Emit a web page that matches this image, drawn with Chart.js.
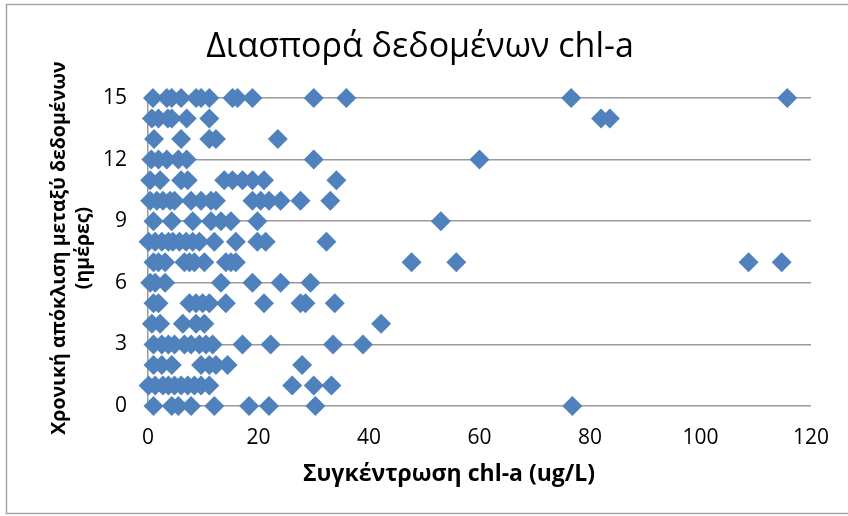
<!DOCTYPE html>
<html>
<head>
<meta charset="utf-8">
<script src="https://cdn.jsdelivr.net/npm/chart.js@4.4.1/dist/chart.umd.min.js"></script>
<style>
  html, body { margin: 0; padding: 0; background: #ffffff; }
  canvas { display: block; }
</style>
</head>
<body>
<canvas id="chart" width="848" height="516"></canvas>
<script>
const chartTitle = 'Διασπορά δεδομένων chl-a';
const xAxisTitle = 'Συγκέντρωση chl-a (ug/L)';
const yAxisTitleLines = ['Χρονική απόκλιση μεταξύ δεδομένων', '(ημέρες)'];

const xTicks = [0, 20, 40, 60, 80, 100, 120];
const yTicks = [0, 3, 6, 9, 12, 15];

// chl-a concentration (ug/L) of each sample, grouped by time lag (days)
const lag0  = [1.0, 4.3, 5.5, 7.8, 12.0, 18.3, 21.9, 30.3, 76.8];
const lag1  = [0.1, 1.3, 2.7, 3.7, 4.8, 6.0, 7.2, 8.4, 9.6, 11.1, 26.1, 30.0, 33.2];
const lag2  = [1.0, 2.5, 4.3, 9.6, 11.1, 12.3, 14.4, 27.9];
const lag3  = [1.0, 2.5, 3.7, 4.8, 6.6, 7.8, 9.3, 10.5, 11.7, 17.1, 22.2, 33.5, 38.9];
const lag4  = [0.7, 2.2, 6.3, 8.7, 10.2, 42.2];
const lag5  = [1.0, 1.9, 7.5, 8.7, 9.9, 11.1, 14.1, 21.0, 27.6, 28.5, 33.8];
const lag6  = [0.4, 1.3, 3.1, 13.2, 18.9, 24.0, 29.4];
const lag7  = [1.0, 1.9, 3.1, 6.6, 7.5, 8.4, 10.2, 14.1, 15.0, 15.9, 47.7, 55.8, 108.7, 114.7];
const lag8  = [0.1, 1.3, 2.5, 3.7, 4.5, 5.7, 6.9, 8.1, 9.3, 12.0, 15.9, 19.8, 21.3, 32.3];
const lag9  = [1.0, 4.3, 8.1, 11.4, 13.2, 15.0, 19.8, 53.0];
const lag10 = [0.4, 1.6, 2.7, 4.0, 4.8, 7.8, 9.6, 11.4, 12.3, 18.9, 20.4, 21.9, 24.0, 27.6, 33.0];
const lag11 = [0.4, 2.2, 6.0, 7.2, 13.8, 15.3, 17.1, 18.9, 21.0, 34.1];
const lag12 = [0.6, 1.9, 3.4, 5.5, 7.0, 30.0, 60.0];
const lag13 = [1.1, 6.0, 11.1, 12.3, 23.5];
const lag14 = [0.7, 1.9, 3.6, 4.3, 7.0, 11.1, 82.0, 83.6];
const lag15 = [0.9, 3.4, 4.3, 6.0, 8.7, 9.6, 11.1, 15.3, 16.2, 18.9, 30.0, 35.9, 76.6, 115.7];

const lagGroups = [
  [0, lag0], [1, lag1], [2, lag2], [3, lag3], [4, lag4], [5, lag5], [6, lag6], [7, lag7],
  [8, lag8], [9, lag9], [10, lag10], [11, lag11], [12, lag12], [13, lag13], [14, lag14], [15, lag15]
];

const points = [];
lagGroups.forEach(([lag, values]) => {
  values.forEach(v => points.push({ x: v, y: lag }));
});

const FONT = '"Open Sans", "DejaVu Sans", sans-serif';
const GRID = '#9a9a9a';

// Frame, chart title and axis titles
const chartTexts = {
  id: 'chartTexts',
  beforeDraw(chart) {
    const ctx = chart.ctx;
    ctx.save();
    ctx.fillStyle = '#ffffff';
    ctx.fillRect(0, 0, chart.width, chart.height);
    ctx.strokeStyle = '#a6a6a6';
    ctx.lineWidth = 1.5;
    ctx.strokeRect(6.5, 4.5, chart.width + 10, 509);
    ctx.restore();
  },
  afterDraw(chart) {
    const ctx = chart.ctx;
    const area = chart.chartArea;
    ctx.save();
    ctx.fillStyle = '#000000';
    ctx.textAlign = 'center';
    ctx.textBaseline = 'middle';

    ctx.font = '34px ' + FONT;
    ctx.fillText(chartTitle, 420, 47);

    ctx.font = 'bold 23px ' + FONT;
    ctx.fillText(xAxisTitle, 449, 474);

    ctx.font = 'bold 19.5px ' + FONT;
    ctx.translate(59, (area.top + area.bottom) / 2 - 4);
    ctx.rotate(-Math.PI / 2);
    ctx.fillText(yAxisTitleLines[0], 0, 0);
    ctx.fillText(yAxisTitleLines[1], 0, 24);
    ctx.restore();
  }
};

new Chart(document.getElementById('chart'), {
  type: 'scatter',
  data: {
    datasets: [{
      data: points,
      clip: false,
      pointStyle: 'rectRot',
      pointRadius: 10,
      pointHoverRadius: 10,
      pointBorderWidth: 0,
      backgroundColor: '#4F81BD',
      borderColor: '#4F81BD'
    }]
  },
  options: {
    responsive: false,
    animation: false,
    devicePixelRatio: 1,
    events: [],
    layout: { padding: { top: 98, right: 31, bottom: 0, left: 0 } },
    plugins: {
      legend: { display: false },
      title: { display: false },
      tooltip: { enabled: false }
    },
    scales: {
      x: {
        type: 'linear',
        min: 0,
        max: 120,
        afterBuildTicks: s => { s.ticks = xTicks.map(v => ({ value: v })); },
        afterFit: s => { s.height = 110; },
        grid: { display: false, drawTicks: false },
        border: { display: false },
        ticks: { padding: 19, color: '#000000', font: { family: FONT, size: 21 } }
      },
      y: {
        type: 'linear',
        min: 0,
        max: 15,
        afterBuildTicks: s => { s.ticks = yTicks.map(v => ({ value: v })); },
        afterFit: s => { s.width = 148; },
        grid: { color: GRID, lineWidth: 1.5, drawTicks: false },
        border: { display: true, color: GRID, width: 1.5 },
        ticks: { padding: 21, color: '#000000', font: { family: FONT, size: 21 } }
      }
    }
  },
  plugins: [chartTexts]
});
</script>
</body>
</html>
